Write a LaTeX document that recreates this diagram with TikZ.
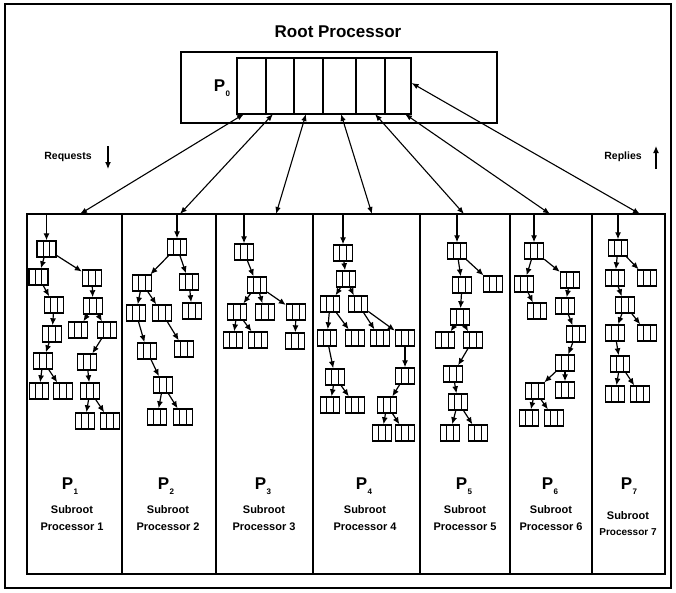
\documentclass[tikz,border=0pt]{standalone}
\usepackage{fontspec}
\setmainfont{Liberation Sans}
\usetikzlibrary{arrows.meta,calc}
\newcommand\Plab[1]{{\fontsize{17}{17}\selectfont\bfseries P}\kern0.3pt\raisebox{-5pt}{\fontsize{8}{8}\selectfont\bfseries #1}}
\begin{document}
\begin{tikzpicture}[x=1pt,y=-1pt,
  tnode/.style={draw,line width=1.4pt,minimum width=19pt,minimum height=16pt,inner sep=0pt,fill=white,
    path picture={
      \draw[line width=1.2pt] ($(path picture bounding box.north west)!0.33!(path picture bounding box.north east)$) -- ($(path picture bounding box.south west)!0.33!(path picture bounding box.south east)$);
      \draw[line width=1.2pt] ($(path picture bounding box.north west)!0.67!(path picture bounding box.north east)$) -- ($(path picture bounding box.south west)!0.67!(path picture bounding box.south east)$);
    }},
  tarr/.style={line width=1.2pt,-{Latex[length=7pt,width=6pt]}},
  rarr/.style={line width=1.1pt,{Latex[length=7pt,width=5.5pt]}-{Latex[length=7pt,width=5.5pt]}},
  qcell/.style={draw,line width=1.1pt,minimum height=56pt,inner sep=0pt},
  sublab/.style={align=center,font=\fontsize{11}{17}\selectfont\bfseries},
  small/.style={font=\fontsize{10.5}{10.5}\selectfont\bfseries}
]
\useasboundingbox (0,0) rectangle (676,592);
\draw[line width=1.6pt] (5,4) rectangle (671,588);

% root processor
\node[font=\fontsize{17}{17}\selectfont\bfseries] (title) at (338,32) {Root Processor};
\node[draw,line width=1.1pt,minimum width=316pt,minimum height=71pt,inner sep=0pt] (root) at (339,87.5) {};
\node (p0) at (222,88) {\Plab{0}};
\node[qcell,minimum width=29pt] (q1) at (251.5,86) {};
\node[qcell,minimum width=28pt] (q2) at (280,86) {};
\node[qcell,minimum width=29pt] (q3) at (308.5,86) {};
\node[qcell,minimum width=33pt] (q4) at (339.5,86) {};
\node[qcell,minimum width=29pt] (q5) at (370.5,86) {};
\node[qcell,minimum width=26pt] (q6) at (398,86) {};

% requests / replies
\node[small] (req) at (68,157) {Requests};
\coordinate (rqa) at (108,146); \coordinate (rqb) at (108,169);
\draw[tarr] (rqa) -- (rqb);
\node[small] (rep) at (623,157) {Replies};
\coordinate (rpa) at (656,169); \coordinate (rpb) at (656,146);
\draw[tarr] (rpa) -- (rpb);

% columns
\draw[line width=1.3pt] (27,214) rectangle (665,574);
\foreach \x in {122,216,313,420,510,592} \draw[line width=1.3pt] (\x,214) -- (\x,574);

% arrow ends
\coordinate (u1) at (244,114); \coordinate (u2) at (273,114); \coordinate (u3) at (306,114);
\coordinate (u4) at (341,114); \coordinate (u5) at (375,114); \coordinate (u6) at (405,114);
\coordinate (t1) at (80,214); \coordinate (t2) at (180,214); \coordinate (t3) at (276,214);
\coordinate (t4) at (372,214); \coordinate (t5) at (464,214); \coordinate (t6) at (550,214);
\coordinate (t7) at (640,214);
\foreach \i in {1,...,6} \draw[rarr] (u\i) -- (t\i);
\draw[rarr] ([yshift=3pt]q6.east) -- (t7);

% column 1
\node[tnode] (c1a) at (46.5,249) {};
\node[tnode] (c1b) at (38.5,277) {};
\node[tnode] (c1c) at (92,278) {};
\node[tnode] (c1d) at (54,305) {};
\node[tnode] (c1e) at (52,334) {};
\node[tnode] (c1f) at (43,361) {};
\node[tnode] (c1g) at (39,391) {};
\node[tnode] (c1h) at (63,391) {};
\node[tnode] (c1i) at (93,306) {};
\node[tnode] (c1j) at (78,330) {};
\node[tnode] (c1k) at (107,330) {};
\node[tnode] (c1l) at (87,362) {};
\node[tnode] (c1m) at (90,391) {};
\node[tnode] (c1n) at (85,421) {};
\node[tnode] (c1o) at (110,421) {};
% column 2
\node[tnode] (c2a) at (177,247) {};
\node[tnode] (c2b) at (142,283) {};
\node[tnode] (c2c) at (189,282) {};
\node[tnode] (c2d) at (192,311) {};
\node[tnode] (c2e) at (136,313) {};
\node[tnode] (c2f) at (162,313) {};
\node[tnode] (c2g) at (147,351) {};
\node[tnode] (c2h) at (184,349) {};
\node[tnode] (c2i) at (163,385) {};
\node[tnode] (c2j) at (157,417) {};
\node[tnode] (c2k) at (183,417) {};
% column 3
\node[tnode] (c3a) at (244,252) {};
\node[tnode] (c3b) at (257,285) {};
\node[tnode] (c3c) at (237,312) {};
\node[tnode] (c3d) at (265,312) {};
\node[tnode] (c3e) at (296,312) {};
\node[tnode] (c3f) at (233,340) {};
\node[tnode] (c3g) at (258,340) {};
\node[tnode] (c3h) at (295,341) {};
% column 4
\node[tnode] (c4a) at (343,253) {};
\node[tnode] (c4b) at (346,279) {};
\node[tnode] (c4c) at (330,304) {};
\node[tnode] (c4d) at (358,304) {};
\node[tnode] (c4e) at (327,338) {};
\node[tnode] (c4f) at (355,338) {};
\node[tnode] (c4g) at (380,338) {};
\node[tnode] (c4h) at (405,338) {};
\node[tnode] (c4i) at (335,377) {};
\node[tnode] (c4j) at (330,405) {};
\node[tnode] (c4k) at (355,405) {};
\node[tnode] (c4l) at (405,376) {};
\node[tnode] (c4m) at (387,405) {};
\node[tnode] (c4n) at (382,433) {};
\node[tnode] (c4o) at (405,433) {};
% column 5
\node[tnode] (c5a) at (457,251) {};
\node[tnode] (c5b) at (462,285) {};
\node[tnode] (c5c) at (493,284) {};
\node[tnode] (c5d) at (460,317) {};
\node[tnode] (c5e) at (445,340) {};
\node[tnode] (c5f) at (473,340) {};
\node[tnode] (c5g) at (453,374) {};
\node[tnode] (c5h) at (458,402) {};
\node[tnode] (c5i) at (450,433) {};
\node[tnode] (c5j) at (478,433) {};
% column 6
\node[tnode] (c6a) at (534,251) {};
\node[tnode] (c6b) at (524,284) {};
\node[tnode] (c6c) at (570,280) {};
\node[tnode] (c6d) at (537,311) {};
\node[tnode] (c6e) at (565,306) {};
\node[tnode] (c6f) at (576,334) {};
\node[tnode] (c6g) at (565,363) {};
\node[tnode] (c6h) at (535,391) {};
\node[tnode] (c6i) at (565,390) {};
\node[tnode] (c6j) at (529,418) {};
\node[tnode] (c6k) at (554,418) {};
% column 7
\node[tnode] (c7a) at (618,248) {};
\node[tnode] (c7b) at (615,278) {};
\node[tnode] (c7c) at (647,278) {};
\node[tnode] (c7d) at (625,305) {};
\node[tnode] (c7e) at (615,333) {};
\node[tnode] (c7f) at (647,333) {};
\node[tnode] (c7g) at (620,364) {};
\node[tnode] (c7h) at (615,394) {};
\node[tnode] (c7i) at (640,394) {};

% entry arrows into subtree roots
\foreach \k in {1,...,7} \coordinate (e\k) at (c\k a |- 0,214);
\foreach \k in {1,...,7} \draw[tarr] (e\k) -- (c\k a);

% tree edges
\foreach \p/\c in {c1a/c1b,c1a/c1c,c1b/c1d,c1d/c1e,c1e/c1f,c1f/c1g,c1f/c1h,c1c/c1i,c1i/c1j,c1i/c1k,c1k/c1l,c1l/c1m,c1m/c1n,c1m/c1o,
  c2a/c2b,c2a/c2c,c2c/c2d,c2b/c2e,c2b/c2f,c2e/c2g,c2f/c2h,c2g/c2i,c2i/c2j,c2i/c2k,
  c3a/c3b,c3b/c3c,c3b/c3d,c3b/c3e,c3c/c3f,c3c/c3g,c3e/c3h,
  c4a/c4b,c4b/c4c,c4b/c4d,c4c/c4e,c4c/c4f,c4d/c4g,c4d/c4h,c4e/c4i,c4i/c4j,c4i/c4k,c4h/c4l,c4l/c4m,c4m/c4n,c4m/c4o,
  c5a/c5b,c5a/c5c,c5b/c5d,c5d/c5e,c5d/c5f,c5f/c5g,c5g/c5h,c5h/c5i,c5h/c5j,
  c6a/c6b,c6a/c6c,c6b/c6d,c6c/c6e,c6e/c6f,c6f/c6g,c6g/c6h,c6g/c6i,c6h/c6j,c6h/c6k,
  c7a/c7b,c7a/c7c,c7b/c7d,c7d/c7e,c7d/c7f,c7e/c7g,c7g/c7h,c7g/c7i}
  \draw[tarr] (\p) -- (\c);

% processor labels
\node (p1) at (70,486) {\Plab{1}};
\node (p2) at (166,486) {\Plab{2}};
\node (p3) at (263,486) {\Plab{3}};
\node (p4) at (364,486) {\Plab{4}};
\node (p5) at (464,486) {\Plab{5}};
\node (p6) at (550,486) {\Plab{6}};
\node (p7) at (629,486) {\Plab{7}};
\node[sublab] (s1) at (72,518) {Subroot\\Processor 1};
\node[sublab] (s2) at (168,518) {Subroot\\Processor 2};
\node[sublab] (s3) at (264,518) {Subroot\\Processor 3};
\node[sublab] (s4) at (365,518) {Subroot\\Processor 4};
\node[sublab] (s5) at (465,518) {Subroot\\Processor 5};
\node[sublab] (s6) at (551,518) {Subroot\\Processor 6};
\node[align=center,font=\fontsize{10}{16}\selectfont\bfseries] (s7) at (628,524) {{\fontsize{11}{11}\selectfont Subroot}\\Processor 7};
\end{tikzpicture}
\end{document}
